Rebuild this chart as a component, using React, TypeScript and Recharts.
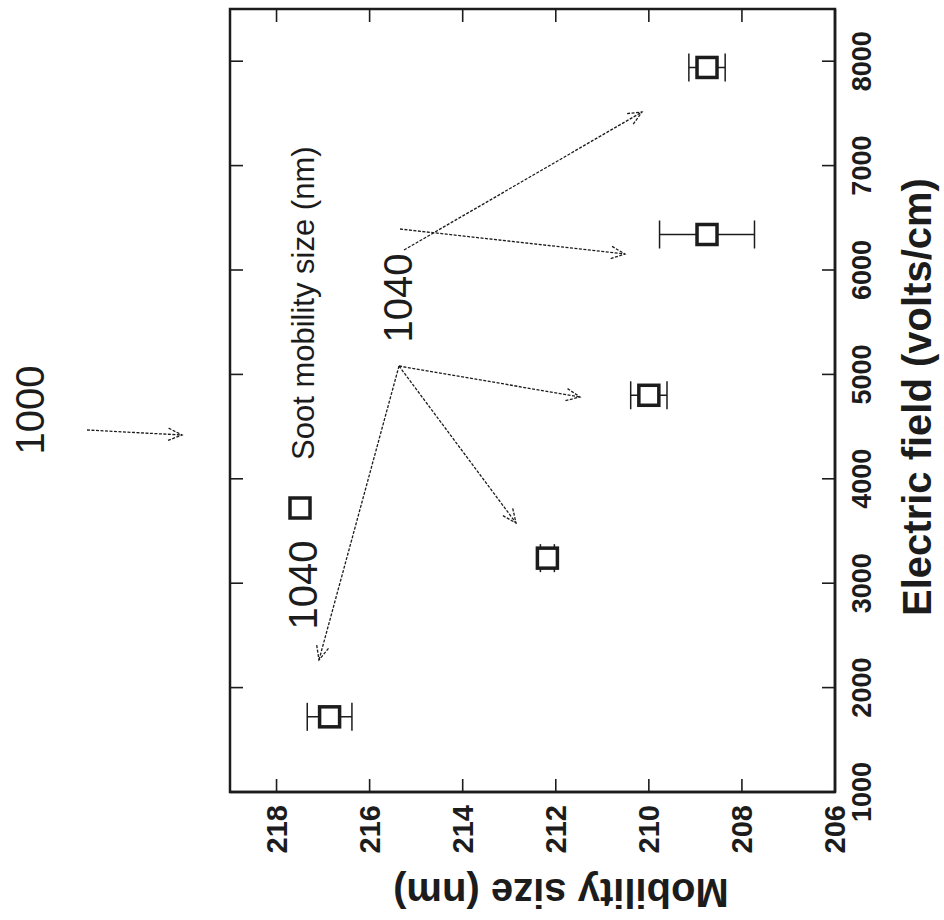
import React from 'react';
import { ScatterChart, Scatter, XAxis, YAxis, ErrorBar, ReferenceArea } from 'recharts';

const fieldValues = [1720, 3240, 4800, 6340, 7940];
const mobilitySizes = [216.86, 212.18, 210.0, 208.75, 208.75];
const mobilityErrors = [0.48, 0.15, 0.39, 1.02, 0.39];
const fieldTicks = [1000, 2000, 3000, 4000, 5000, 6000, 7000, 8000];
const mobilityTicks = [206, 208, 210, 212, 214, 216, 218];

const data = fieldValues.map((field, i) => ({
  field,
  size: mobilitySizes[i],
  err: mobilityErrors[i],
}));

// the figure is drawn upright, then turned a quarter turn to the left
const W = 920;
const H = 944;
const M = { top: 230, right: 9, bottom: 9, left: 48 };
const X_AXIS_H = 100;
const Y_AXIS_W = 80;
const PLOT_LEFT = M.left + Y_AXIS_W;
const PLOT_RIGHT = W - M.right;
const PLOT_TOP = M.top;
const PLOT_BOTTOM = H - M.bottom - X_AXIS_H;
const TICK = 13;
const INK = '#1c1c1c';
const FONT = '"Liberation Sans", Arial, sans-serif';

const SquareMark = (props: any) => {
  const { cx, cy } = props;
  if (cx == null || cy == null) return null;
  return <rect x={cx - 10} y={cy - 10} width={20} height={20} fill="#fff" stroke={INK} strokeWidth={3.5} />;
};

// ticks point inward on both sides of the frame, like the gnuplot original
const FieldTick = (props: any) => {
  const { x, payload } = props;
  return (
    <g>
      <line x1={x} y1={PLOT_BOTTOM} x2={x} y2={PLOT_BOTTOM - TICK} stroke={INK} strokeWidth={1.6} />
      <line x1={x} y1={PLOT_TOP} x2={x} y2={PLOT_TOP + TICK} stroke={INK} strokeWidth={1.6} />
      <text x={x} y={PLOT_BOTTOM + 36} textAnchor="middle" fontFamily={FONT} fontWeight="bold" fontSize={27} fill={INK}>
        {payload.value}
      </text>
    </g>
  );
};

const SizeTick = (props: any) => {
  const { y, payload } = props;
  return (
    <g>
      <line x1={PLOT_LEFT} y1={y} x2={PLOT_LEFT + TICK} y2={y} stroke={INK} strokeWidth={1.6} />
      <line x1={PLOT_RIGHT} y1={y} x2={PLOT_RIGHT - TICK} y2={y} stroke={INK} strokeWidth={1.6} />
      <text x={PLOT_LEFT - 13} y={y + 10} textAnchor="end" fontFamily={FONT} fontWeight="bold" fontSize={29} fill={INK}>
        {payload.value}
      </text>
    </g>
  );
};

const Arrow = ({ from, to }: { from: number[]; to: number[] }) => {
  const [x1, y1] = from;
  const [x2, y2] = to;
  const a = Math.atan2(y2 - y1, x2 - x1);
  const len = 15;
  const spread = 0.42;
  const h1 = [x2 - len * Math.cos(a - spread), y2 - len * Math.sin(a - spread)];
  const h2 = [x2 - len * Math.cos(a + spread), y2 - len * Math.sin(a + spread)];
  return (
    <g stroke={INK} strokeWidth={1.3} fill="none" strokeDasharray="3 1.5">
      <line x1={x1} y1={y1} x2={x2} y2={y2} />
      <polyline points={`${h1[0]},${h1[1]} ${x2},${y2} ${h2[0]},${h2[1]}`} />
    </g>
  );
};

const Overlay = () => (
  <svg width={W} height={H} style={{ position: 'absolute', left: 0, top: 0, pointerEvents: 'none' }}>
    <g fontFamily={FONT} fill={INK}>
      <text x={510} y={30} fontSize={40} textAnchor="middle" dominantBaseline="central">1000</text>
      <text x={335} y={303} fontSize={40} textAnchor="middle" dominantBaseline="central">1040</text>
      <text x={622} y={398} fontSize={40} textAnchor="middle" dominantBaseline="central">1040</text>
      <text x={460} y={303} fontSize={31} textAnchor="start" dominantBaseline="central">Soot mobility size (nm)</text>
      <text x={523} y={917} fontSize={40} fontWeight="bold" textAnchor="middle" dominantBaseline="central">
        Electric field (volts/cm)
      </text>
      <text x={27} y={561} fontSize={40} fontWeight="bold" textAnchor="middle" dominantBaseline="central"
        transform="rotate(-90 27 561)">
        Mobility size (nm)
      </text>
    </g>
    <rect x={402} y={290} width={20} height={20} fill="#fff" stroke={INK} strokeWidth={3.5} />
    <Arrow from={[490, 87]} to={[485, 182]} />
    <Arrow from={[554, 399]} to={[260, 319]} />
    <Arrow from={[554, 399]} to={[397, 516]} />
    <Arrow from={[554, 399]} to={[523, 580]} />
    <Arrow from={[670, 404]} to={[808, 642]} />
    <Arrow from={[691, 400]} to={[666, 625]} />
  </svg>
);

export default function App() {
  return (
    <div style={{ position: 'fixed', left: 0, top: 0, width: 944, height: 920, background: '#fff', overflow: 'hidden' }}>
      <div
        style={{
          position: 'absolute',
          left: 0,
          top: 0,
          width: W,
          height: H,
          transformOrigin: '0 0',
          transform: `translateY(${W}px) rotate(-90deg)`,
        }}
      >
        <ScatterChart width={W} height={H} margin={M}>
          <XAxis
            dataKey="field"
            type="number"
            domain={[1000, 8500]}
            ticks={fieldTicks}
            height={X_AXIS_H}
            tickSize={0}
            tickLine={false}
            axisLine={{ stroke: INK, strokeWidth: 2.5 }}
            tick={(p: any) => <FieldTick {...p} />}
          />
          <YAxis
            dataKey="size"
            type="number"
            domain={[206, 219]}
            ticks={mobilityTicks}
            width={Y_AXIS_W}
            tickSize={0}
            tickLine={false}
            axisLine={{ stroke: INK, strokeWidth: 2.5 }}
            tick={(p: any) => <SizeTick {...p} />}
          />
          <ReferenceArea x1={1000} x2={8500} y1={206} y2={219} fill="none" stroke={INK} strokeWidth={2.5} />
          <Scatter data={data} shape={SquareMark} isAnimationActive={false}>
            <ErrorBar dataKey="err" direction="y" width={14} stroke={INK} strokeWidth={1.5} />
          </Scatter>
        </ScatterChart>
        <Overlay />
      </div>
    </div>
  );
}
